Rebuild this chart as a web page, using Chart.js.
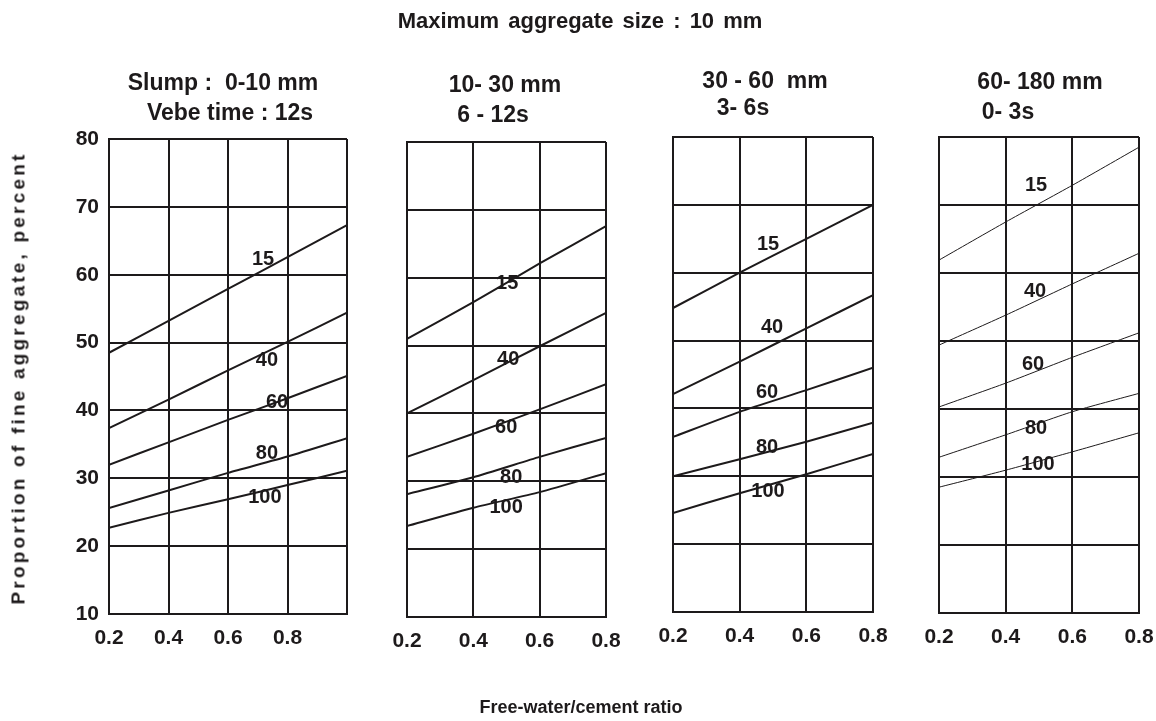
<!DOCTYPE html>
<html>
<head>
<meta charset="utf-8">
<script src="https://cdn.jsdelivr.net/npm/chart.js@4.4.1/dist/chart.umd.min.js"></script>
<style>
  body { margin: 0; background: #fff; }
  #wrap { position: relative; width: 1156px; height: 721px; overflow: hidden;
          font-family: "Liberation Sans", Arial, sans-serif; font-weight: bold; color: #1d1a1b; }
  #wrap canvas { position: absolute; left: 0; top: 0; }
  .t { position: absolute; transform: translate(-50%, -50%); white-space: pre; line-height: 1; }
</style>
</head>
<body>
<div id="wrap">
  <canvas id="c1" width="1156" height="721"></canvas>
  <canvas id="c2" width="1156" height="721"></canvas>
  <canvas id="c3" width="1156" height="721"></canvas>
  <canvas id="c4" width="1156" height="721"></canvas>

  <div class="t" style="left:580px;top:21px;font-size:22px;word-spacing:3px">Maximum aggregate size : 10 mm</div>

  <div class="t" style="left:223px;top:82px;font-size:23px">Slump :  0-10 mm</div>
  <div class="t" style="left:230px;top:112px;font-size:23px">Vebe time : 12s</div>
  <div class="t" style="left:505px;top:84px;font-size:23px">10- 30 mm</div>
  <div class="t" style="left:493px;top:114px;font-size:23px">6 - 12s</div>
  <div class="t" style="left:765px;top:80px;font-size:23px">30 - 60  mm</div>
  <div class="t" style="left:743px;top:107px;font-size:23px">3- 6s</div>
  <div class="t" style="left:1040px;top:81px;font-size:23px">60- 180 mm</div>
  <div class="t" style="left:1008px;top:111px;font-size:23px">0- 3s</div>

  <div class="t" style="left:18px;top:378px;font-size:19px;letter-spacing:3.2px;transform:translate(-50%,-50%) rotate(-90deg)">Proportion of fine aggregate, percent</div>
  <div class="t" style="left:581px;top:707px;font-size:18px">Free-water/cement ratio</div>
</div>

<script>
// x positions (free-water/cement ratio)
const ratioWide = [0.2, 0.4, 0.6, 0.8, 1.0];
const ratio = [0.2, 0.4, 0.6, 0.8];
const ratioTicks = [0.2, 0.4, 0.6, 0.8];
const fineTicks = [10, 20, 30, 40, 50, 60, 70, 80];
const slumpCurves = ["15", "40", "60", "80", "100"];

// proportion of fine aggregate (%) for each curve, panel by panel
const slump0to10 = [
  [48.5, 53.2, 57.9, 62.6, 67.3],
  [37.4, 41.6, 45.9, 50.1, 54.4],
  [32.0, 35.3, 38.6, 41.8, 45.1],
  [25.6, 28.2, 30.8, 33.2, 35.9],
  [22.7, 24.9, 26.9, 29.0, 31.1],
];
const slump10to30 = [
  [51.0, 56.4, 62.1, 67.6],
  [40.0, 44.9, 49.9, 54.8],
  [33.6, 37.0, 40.6, 44.3],
  [28.1, 30.6, 33.6, 36.4],
  [23.4, 26.1, 28.4, 31.2],
];
const slump30to60 = [
  [54.8, 60.0, 65.0, 70.0],
  [42.1, 46.9, 51.8, 56.7],
  [35.8, 39.5, 42.7, 46.0],
  [30.0, 32.5, 35.1, 37.9],
  [24.6, 27.5, 30.3, 33.3],
];
const slump60to180 = [
  [61.9, 67.5, 72.9, 78.5],
  [49.4, 53.8, 58.4, 62.9],
  [40.3, 43.8, 47.6, 51.2],
  [32.9, 36.2, 39.6, 42.3],
  [28.5, 31.0, 33.7, 36.5],
];

// where the curve numbers sit (data coordinates)
const label1X = [0.718, 0.731, 0.765, 0.731, 0.724];
const label1Y = [62.2, 47.4, 41.1, 33.7, 27.2];
const label2X = [0.502, 0.505, 0.499, 0.514, 0.499];
const label2Y = [59.2, 47.9, 38.0, 30.5, 26.2];
const label3X = [0.485, 0.497, 0.482, 0.482, 0.485];
const label3Y = [64.1, 51.9, 42.4, 34.2, 27.8];
const label4X = [0.491, 0.488, 0.482, 0.491, 0.497];
const label4Y = [72.8, 57.3, 46.5, 37.1, 31.8];

const ink = "#1d1a1b";
Chart.defaults.font.family = '"Liberation Sans", Arial, sans-serif';
Chart.defaults.color = ink;

const curveLabels = {
  id: "curveLabels",
  afterDatasetsDraw(chart, args, opts) {
    const { ctx, scales } = chart;
    ctx.save();
    ctx.font = 'bold 20px "Liberation Sans", Arial, sans-serif';
    ctx.fillStyle = ink;
    ctx.textAlign = "center";
    ctx.textBaseline = "middle";
    slumpCurves.forEach((txt, i) => {
      ctx.fillText(txt, scales.x.getPixelForValue(opts.xs[i]), scales.y.getPixelForValue(opts.ys[i]));
    });
    ctx.restore();
  },
};

function makePanel(id, xs, lines, labelX, labelY, pad, showY, lineWidth) {
  new Chart(document.getElementById(id), {
    type: "line",
    data: {
      datasets: lines.map((vals, i) => ({
        label: slumpCurves[i],
        data: xs.map((x, j) => ({ x: x, y: vals[j] })),
        borderColor: ink,
        borderWidth: lineWidth,
        pointRadius: 0,
        tension: 0.2,
        fill: false,
      })),
    },
    options: {
      responsive: false,
      animation: false,
      events: [],
      layout: { padding: pad },
      plugins: {
        legend: { display: false },
        tooltip: { enabled: false },
        curveLabels: { xs: labelX, ys: labelY },
      },
      scales: {
        x: {
          type: "linear",
          min: xs[0],
          max: xs[xs.length - 1],
          afterBuildTicks: (s) => { s.ticks = xs.map((v) => ({ value: v })); },
          afterFit: (s) => { s.height = 40; s.paddingLeft = 0; s.paddingRight = 0; },
          grid: { color: ink, lineWidth: 2, drawTicks: false },
          border: { color: ink, width: 2 },
          ticks: {
            padding: 12,
            color: ink,
            font: { size: 21, weight: "bold" },
            callback: (v) => ratioTicks.some((t) => Math.abs(t - v) < 1e-9) ? v.toFixed(1) : "",
          },
        },
        y: {
          min: 10,
          max: 80,
          afterBuildTicks: (s) => { s.ticks = fineTicks.map((v) => ({ value: v })); },
          afterFit: (s) => { s.width = showY ? 50 : 0; s.paddingTop = 0; s.paddingBottom = 0; },
          grid: { color: ink, lineWidth: 2, drawTicks: false },
          border: { color: ink, width: 2 },
          ticks: { display: showY, padding: 10, color: ink, font: { size: 21, weight: "bold" } },
        },
      },
    },
    plugins: [curveLabels],
  });
}

makePanel("c1", ratioWide, slump0to10, label1X, label1Y,
  { left: 59, right: 809, top: 139, bottom: 67 }, true, 2);
makePanel("c2", ratio, slump10to30, label2X, label2Y,
  { left: 407, right: 550, top: 142, bottom: 64 }, false, 2);
makePanel("c3", ratio, slump30to60, label3X, label3Y,
  { left: 673, right: 283, top: 137, bottom: 69 }, false, 2);
makePanel("c4", ratio, slump60to180, label4X, label4Y,
  { left: 939, right: 17, top: 137, bottom: 68 }, false, 1);
</script>
</body>
</html>
